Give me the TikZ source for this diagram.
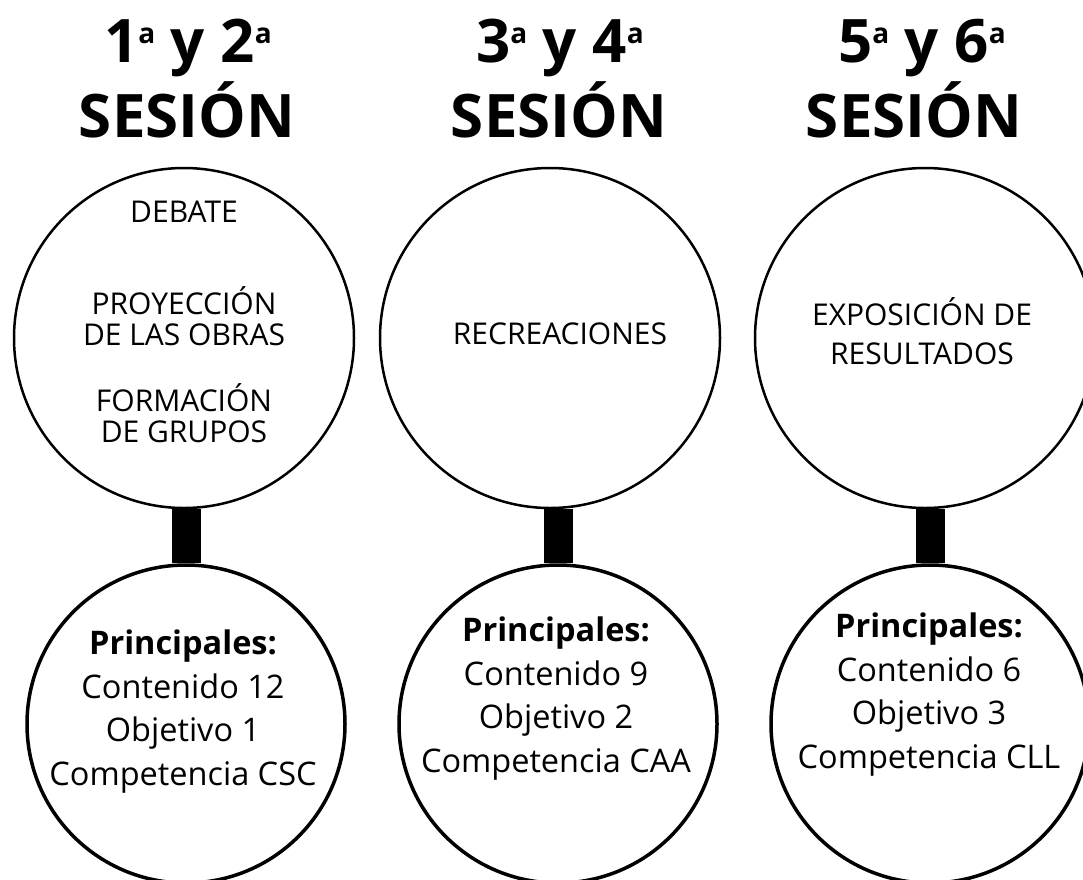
\documentclass[tikz,border=0pt]{standalone}
\usepackage{fontspec}
\setmainfont{Open Sans}
\usetikzlibrary{positioning}

% raised ordinal a of the titles
\newcommand{\ordA}{\raisebox{19pt}{\fontsize{28}{28}\selectfont a}}

\begin{document}
\begin{tikzpicture}[x=1pt,y=-1pt,
    title/.style={font=\bfseries\fontsize{60}{60}\selectfont, anchor=base},
    topcircle/.style={draw, circle, line width=2.5pt, fill=white, minimum size=340pt, inner sep=0pt},
    botcircle/.style={draw, circle, line width=3.5pt, fill=white, minimum size=318pt, inner sep=0pt},
    toptext/.style={font=\fontsize{30}{31}\selectfont, align=center, anchor=base},
    bottext/.style={font=\fontsize{32.5}{43.5}\selectfont, align=center, anchor=base},
    bar/.style={line width=29pt}]
    % page
    \useasboundingbox (0,0) rectangle (1083,879);
    \clip (0,0) rectangle (1083,879);
    \fill[white] (0,0) rectangle (1083,879);

    % sessions
    \node[topcircle] (s12) at (184,338) {};
    \node[topcircle] (s34) at (550,338) {};
    \node[topcircle] (s56) at (925,338) {};

    % principales
    \node[botcircle] (p12) at (186,724) {};
    \node[botcircle] (p34) at (558,724) {};
    \node[botcircle] (p56) at (930,724) {};

    % bars
    \draw[bar] (p12.north) -- (p12.north |- s12.south);
    \draw[bar] (p34.north) -- (p34.north |- s34.south);
    \draw[bar] (p56.north) -- (p56.north |- s56.south);

    % titles
    \node[title] (t12a) at (188,62) {1\ordA{} y 2\ordA};
    \node[title] (t12b) at (187,137) {SESIÓN};
    \node[title] (t34a) at (560,62) {3\ordA{} y 4\ordA};
    \node[title] (t34b) at (559,137) {SESIÓN};
    \node[title] (t56a) at (922,62) {5\ordA{} y 6\ordA};
    \node[title] (t56b) at (914,137) {SESIÓN};

    % activities
    \node[toptext] (debate) at (184,222) {DEBATE};
    \node[toptext] (proyeccion) at (184,345) {PROYECCIÓN\\DE LAS OBRAS};
    \node[toptext] (formacion) at (184,442) {FORMACIÓN\\DE GRUPOS};
    \node[toptext] (recreaciones) at (560,344) {RECREACIONES};
    \node[toptext, font=\fontsize{30}{39}\selectfont] (exposicion) at (922,364) {EXPOSICIÓN DE\\RESULTADOS};

    % contents
    \node[bottext] (c12) at (183,785) {\textbf{Principales:}\\Contenido 12\\Objetivo 1\\Competencia CSC};
    \node[bottext] (c34) at (556,772) {\textbf{Principales:}\\Contenido 9\\Objetivo 2\\Competencia CAA};
    \node[bottext] (c56) at (929,768) {\textbf{Principales:}\\Contenido 6\\Objetivo 3\\Competencia CLL};
\end{tikzpicture}
\end{document}
